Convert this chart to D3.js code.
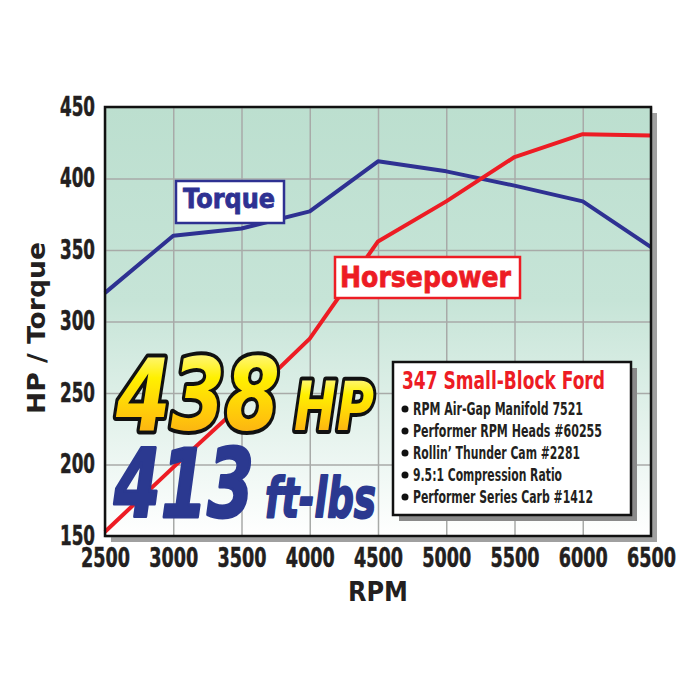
<!DOCTYPE html>
<html>
<head>
<meta charset="utf-8">
<script src="https://cdn.jsdelivr.net/npm/d3@7"></script>
<style>
  body { margin: 0; background: #fff; }
  svg { display: block; }
</style>
</head>
<body>
<div id="chart"></div>
<script>
let rpm = [2500, 3000, 3500, 4000, 4500, 5000, 5500, 6000, 6500]
let torque = [320, 360, 365, 377, 412, 405, 395, 384, 352]
let horsepower = [153, 198, 242, 288, 356, 384, 415, 431, 430]
let yTicks = [150, 200, 250, 300, 350, 400, 450]

let specTitle = "347 Small-Block Ford"
let specs = [
  "RPM Air-Gap Manifold 7521",
  "Performer RPM Heads #60255",
  "Rollin\u2019 Thunder Cam #2281",
  "9.5:1 Compression Ratio",
  "Performer Series Carb #1412"
]

let svgW = 700, svgH = 700
let margin = { left: 105, top: 107, right: 49, bottom: 164 }
let chartW = svgW - margin.left - margin.right
let chartH = svgH - margin.top - margin.bottom

let blue = "#2e3192", red = "#ed1c24"
let narrow = "'DejaVu Sans Condensed', 'DejaVu Sans', sans-serif"
let wide = "'DejaVu Sans', Verdana, sans-serif"

let x = d3.scaleLinear().domain([2500, 6500]).range([0, chartW])
let y = d3.scaleLinear().domain([150, 450]).range([chartH, 0])

let svg = d3.select("#chart").append("svg")
  .attr("width", svgW).attr("height", svgH)

let defs = svg.append("defs")
let bg = defs.append("linearGradient").attr("id", "bg")
  .attr("x1", 0).attr("y1", 0).attr("x2", 0).attr("y2", 1)
bg.append("stop").attr("offset", 0).attr("stop-color", "#bcdfcf")
bg.append("stop").attr("offset", 0.45).attr("stop-color", "#c6e4d7")
bg.append("stop").attr("offset", 1).attr("stop-color", "#ffffff")

let gold = defs.append("linearGradient").attr("id", "gold")
  .attr("x1", 0).attr("y1", 0).attr("x2", 0).attr("y2", 1)
gold.append("stop").attr("offset", 0).attr("stop-color", "#fffbd2")
gold.append("stop").attr("offset", 0.35).attr("stop-color", "#fff000")
gold.append("stop").attr("offset", 0.7).attr("stop-color", "#ffc40c")
gold.append("stop").attr("offset", 1).attr("stop-color", "#f49a1c")

let g = svg.append("g").attr("transform", `translate(${margin.left},${margin.top})`)

// plot shadow + background
g.append("rect").attr("x", 6).attr("y", 6).attr("width", chartW).attr("height", chartH)
  .attr("fill", "#a0a0a0")
g.append("rect").attr("width", chartW).attr("height", chartH).attr("fill", "url(#bg)")

// grid
g.append("g").attr("class", "grid")
  .call(d3.axisBottom(x).tickValues(rpm).tickSize(chartH).tickFormat(""))
  .call(s => s.select(".domain").remove())
  .selectAll("line").attr("stroke", "#a8aaa8").attr("stroke-width", 1.5)
g.append("g").attr("class", "grid")
  .call(d3.axisLeft(y).tickValues(yTicks).tickSize(-chartW).tickFormat(""))
  .call(s => s.select(".domain").remove())
  .selectAll("line").attr("stroke", "#a8aaa8").attr("stroke-width", 1.5)

// lines
let line = d3.line().x((d, i) => x(rpm[i])).y(d => y(d))
g.append("path").datum(torque).attr("d", line)
  .attr("fill", "none").attr("stroke", blue).attr("stroke-width", 4)
  .attr("stroke-linejoin", "round")
g.append("path").datum(horsepower).attr("d", line)
  .attr("fill", "none").attr("stroke", red).attr("stroke-width", 4)
  .attr("stroke-linejoin", "round")

// border
g.append("rect").attr("width", chartW).attr("height", chartH)
  .attr("fill", "none").attr("stroke", "#111").attr("stroke-width", 2.5)

// axes labels
g.append("g")
  .call(d3.axisLeft(y).tickValues(yTicks).tickSize(0).tickPadding(10))
  .call(s => s.select(".domain").remove())
  .selectAll("text")
  .attr("font-family", narrow).attr("font-weight", "bold").attr("font-size", 26)
  .attr("font-stretch", "condensed")
  .attr("textLength", 35).attr("lengthAdjust", "spacingAndGlyphs")
  .attr("fill", "#231f20").attr("stroke", "#231f20").attr("stroke-width", 0.5)

g.append("g").attr("transform", `translate(0,${chartH})`)
  .call(d3.axisBottom(x).tickValues(rpm).tickSize(0).tickPadding(12).tickFormat(d3.format("d")))
  .call(s => s.select(".domain").remove())
  .selectAll("text")
  .attr("font-family", narrow).attr("font-weight", "bold").attr("font-size", 27)
  .attr("font-stretch", "condensed")
  .attr("textLength", 49).attr("lengthAdjust", "spacingAndGlyphs")
  .attr("fill", "#231f20").attr("stroke", "#231f20").attr("stroke-width", 0.5)

svg.append("text").attr("x", margin.left + chartW / 2).attr("y", 601)
  .attr("text-anchor", "middle").attr("font-family", wide).attr("font-weight", "bold")
  .attr("font-size", 27).attr("textLength", 60).attr("lengthAdjust", "spacingAndGlyphs")
  .attr("fill", "#231f20").text("RPM")

svg.append("text").attr("transform", "translate(45,328) rotate(-90)")
  .attr("text-anchor", "middle").attr("font-family", wide).attr("font-weight", "bold")
  .attr("font-size", 25).attr("textLength", 172).attr("lengthAdjust", "spacingAndGlyphs")
  .attr("fill", "#231f20").text("HP / Torque")

// series labels
function tag(bx, by, bw, bh, tx, ty, tw, size, color, label) {
  g.append("rect").attr("x", bx).attr("y", by).attr("width", bw).attr("height", bh)
    .attr("fill", "#fff").attr("stroke", color).attr("stroke-width", 2.5)
  g.append("text").attr("x", tx).attr("y", ty)
    .attr("font-family", wide).attr("font-weight", "bold").attr("font-size", size)
    .attr("textLength", tw).attr("lengthAdjust", "spacingAndGlyphs")
    .attr("fill", color).attr("stroke", color).attr("stroke-width", 0.8).text(label)
}
tag(71, 74, 108, 42, 78, 101, 92, 26, blue, "Torque")
tag(230, 150, 185, 41, 235, 180, 171, 29, red, "Horsepower")

// big numbers
let big = svg.append("g").attr("font-family", wide).attr("font-weight", "bold")
  .attr("font-style", "italic")
big.append("text").attr("x", 116).attr("y", 430).attr("font-size", 100)
  .attr("textLength", 164).attr("lengthAdjust", "spacingAndGlyphs")
  .attr("fill", "url(#gold)").attr("stroke", "#111").attr("stroke-width", 8)
  .attr("stroke-linejoin", "round").attr("paint-order", "stroke").text("438")
big.append("text").attr("x", 294).attr("y", 430).attr("font-size", 68)
  .attr("textLength", 80).attr("lengthAdjust", "spacingAndGlyphs")
  .attr("fill", "url(#gold)").attr("stroke", "#111").attr("stroke-width", 8)
  .attr("stroke-linejoin", "round").attr("paint-order", "stroke").text("HP")
big.append("text").attr("x", 114).attr("y", 517).attr("font-size", 94)
  .attr("textLength", 140).attr("lengthAdjust", "spacingAndGlyphs")
  .attr("fill", "#2b3990").attr("stroke", "#2b3990").attr("stroke-width", 3)
  .attr("stroke-linejoin", "round").text("413")
big.append("text").attr("x", 265).attr("y", 517).attr("font-size", 56)
  .attr("textLength", 111).attr("lengthAdjust", "spacingAndGlyphs")
  .attr("fill", "#2b3990").attr("stroke", "#2b3990").attr("stroke-width", 2)
  .attr("stroke-linejoin", "round").text("ft-lbs")

// spec box
let box = svg.append("g").attr("transform", "translate(393,362)")
box.append("rect").attr("x", 6).attr("y", 6).attr("width", 238).attr("height", 153).attr("fill", "#8a8a8a")
box.append("rect").attr("width", 238).attr("height", 153)
  .attr("fill", "#fff").attr("stroke", "#111").attr("stroke-width", 2.5)
box.append("text").attr("x", 9).attr("y", 27)
  .attr("font-family", narrow).attr("font-weight", "bold").attr("font-size", 25)
  .attr("font-stretch", "condensed")
  .attr("textLength", 203).attr("lengthAdjust", "spacingAndGlyphs")
  .attr("fill", red).text(specTitle)
let specW = [170, 189, 167, 149, 180]
let rows = box.selectAll(".spec").data(specs).enter().append("g")
  .attr("transform", (d, i) => `translate(0,${53 + i * 22})`)
rows.append("circle").attr("cx", 12).attr("cy", -6).attr("r", 3.5).attr("fill", "#111")
rows.append("text").attr("x", 20).attr("y", 0)
  .attr("font-family", narrow).attr("font-weight", "bold").attr("font-size", 18)
  .attr("font-stretch", "condensed")
  .attr("textLength", (d, i) => specW[i]).attr("lengthAdjust", "spacingAndGlyphs")
  .attr("fill", "#231f20").text(d => d)
</script>
</body>
</html>
